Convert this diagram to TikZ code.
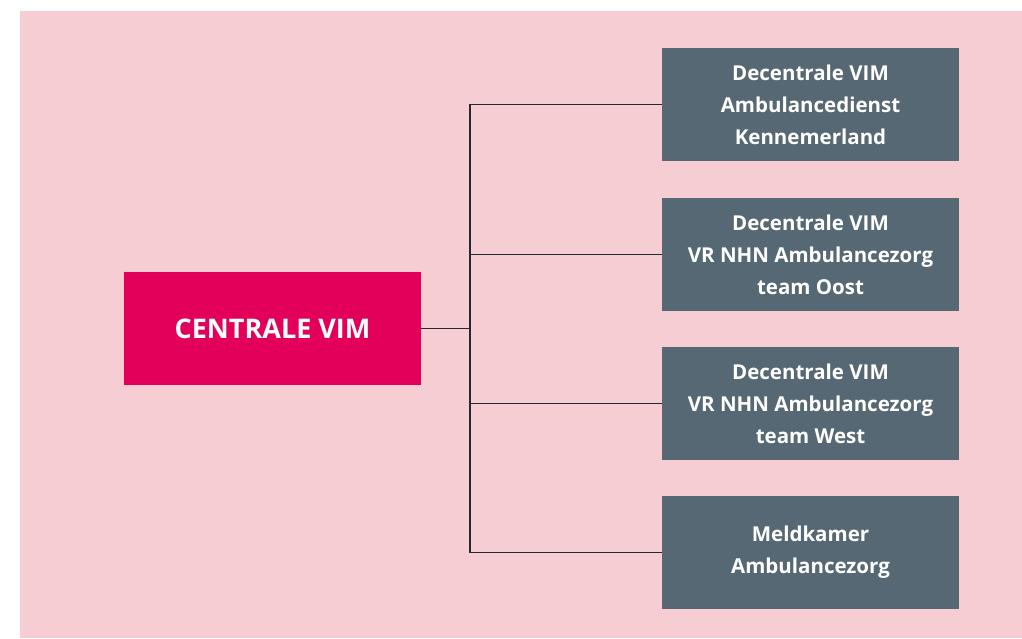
\documentclass[tikz,border=0pt]{standalone}
\usepackage{fontspec}
\setmainfont{Open Sans}
\definecolor{bgpink}{HTML}{F6CDD2}
\definecolor{vimred}{HTML}{E3005A}
\definecolor{vimgrey}{HTML}{566873}
\definecolor{linegrey}{HTML}{222A30}
\begin{document}
\begin{tikzpicture}[x=1pt,y=-1pt,
  hoofd/.style={fill=vimred, text=white, minimum width=297pt, minimum height=113pt, inner sep=0pt, align=center, font=\fontsize{27}{32}\selectfont\bfseries},
  decentraal/.style={fill=vimgrey, text=white, minimum width=297pt, minimum height=113pt, inner sep=0pt, align=center, font=\fontsize{20.5}{32}\selectfont\bfseries},
  lijn/.style={draw=linegrey, line width=1.2pt}]
\useasboundingbox (0,0) rectangle (1022,638);
\fill[bgpink] (20,11) rectangle (1022,638);
\node[hoofd] (centraal) at (272.5,328.5) {CENTRALE VIM};
\node[decentraal] (kennemerland) at (810.5,104.5) {Decentrale VIM\\Ambulancedienst\\Kennemerland};
\node[decentraal] (oost) at (810.5,254.5) {Decentrale VIM\\VR NHN Ambulancezorg\\team Oost};
\node[decentraal] (west) at (810.5,403.5) {Decentrale VIM\\VR NHN Ambulancezorg\\team West};
\node[decentraal] (meldkamer) at (810.5,552.5) {Meldkamer\\Ambulancezorg};
\coordinate (splits) at (470,328.5);
\draw[lijn] (centraal.east) -- (splits);
\draw[lijn] (splits) |- (kennemerland.west);
\draw[lijn] (splits) |- (oost.west);
\draw[lijn] (splits) |- (west.west);
\draw[lijn] (splits) |- (meldkamer.west);
\end{tikzpicture}
\end{document}
